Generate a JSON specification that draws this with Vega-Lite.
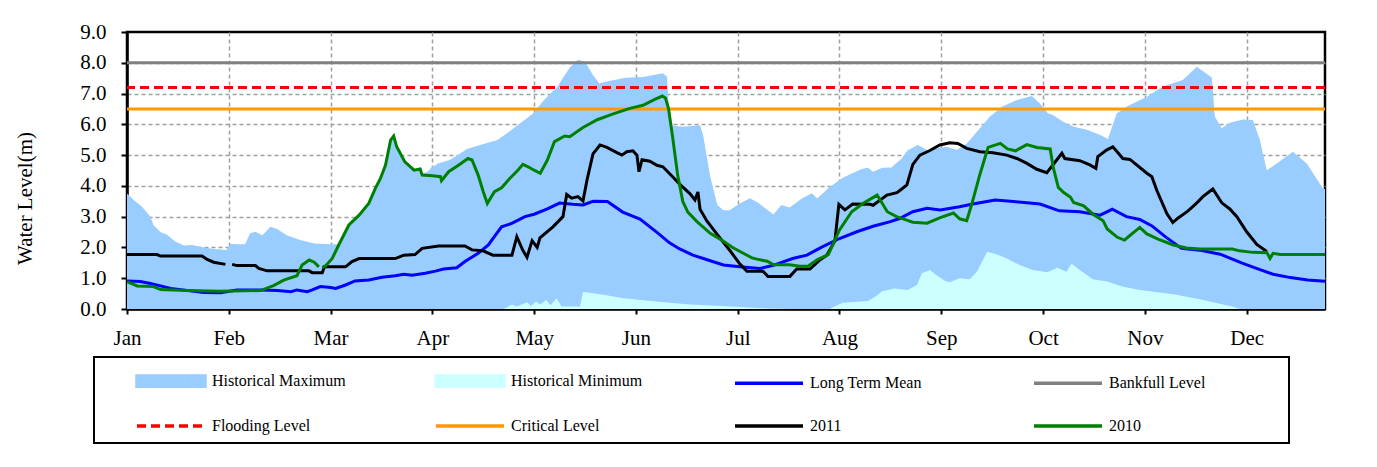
{
  "$schema": "https://vega.github.io/schema/vega-lite/v6.json",
  "width": 1198,
  "height": 277,
  "autosize": {"type": "none"},
  "padding": {"left": 127, "top": 32, "right": 52, "bottom": 158},
  "background": "white",
  "config": {
    "font": "Liberation Serif",
    "view": {"stroke": "black", "strokeWidth": 2.5},
    "axis": {
      "domainColor": "black", "domainWidth": 2.5,
      "tickColor": "black", "tickWidth": 2,
      "labelColor": "black", "labelFont": "Liberation Serif", "labelFontSize": 21,
      "titleColor": "black", "titleFont": "Liberation Serif", "titleFontSize": 21, "titleFontWeight": "normal",
      "gridColor": "#A0A0A0", "gridDash": [4, 3], "gridWidth": 1.5,
      "labelOverlap": false, "labelFlush": false
    }
  },
  "datasets": {
    "histmax": [
      {"s":"Historical Maximum","m":0,"v":3.75},{"s":"Historical Maximum","m":0.066,"v":3.54},{"s":"Historical Maximum","m":0.148,"v":3.32},{"s":"Historical Maximum","m":0.23,"v":3.0},{"s":"Historical Maximum","m":0.26,"v":2.73},{"s":"Historical Maximum","m":0.33,"v":2.49},{"s":"Historical Maximum","m":0.39,"v":2.42},{"s":"Historical Maximum","m":0.475,"v":2.19},{"s":"Historical Maximum","m":0.557,"v":2.06},{"s":"Historical Maximum","m":0.64,"v":2.08},{"s":"Historical Maximum","m":0.72,"v":2.02},{"s":"Historical Maximum","m":0.85,"v":1.95},{"s":"Historical Maximum","m":0.977,"v":1.92},{"s":"Historical Maximum","m":1.016,"v":2.11},{"s":"Historical Maximum","m":1.1,"v":2.1},{"s":"Historical Maximum","m":1.16,"v":2.1},{"s":"Historical Maximum","m":1.21,"v":2.46},{"s":"Historical Maximum","m":1.26,"v":2.51},{"s":"Historical Maximum","m":1.33,"v":2.4},{"s":"Historical Maximum","m":1.41,"v":2.67},{"s":"Historical Maximum","m":1.475,"v":2.6},{"s":"Historical Maximum","m":1.57,"v":2.4},{"s":"Historical Maximum","m":1.7,"v":2.24},{"s":"Historical Maximum","m":1.84,"v":2.13},{"s":"Historical Maximum","m":2.0,"v":2.1},{"s":"Historical Maximum","m":2.08,"v":2.1},{"s":"Historical Maximum","m":2.18,"v":2.73},{"s":"Historical Maximum","m":2.28,"v":3.05},{"s":"Historical Maximum","m":2.375,"v":3.43},{"s":"Historical Maximum","m":2.44,"v":3.92},{"s":"Historical Maximum","m":2.49,"v":4.24},{"s":"Historical Maximum","m":2.54,"v":4.68},{"s":"Historical Maximum","m":2.59,"v":5.49},{"s":"Historical Maximum","m":2.62,"v":5.62},{"s":"Historical Maximum","m":2.65,"v":5.27},{"s":"Historical Maximum","m":2.73,"v":4.78},{"s":"Historical Maximum","m":2.82,"v":4.51},{"s":"Historical Maximum","m":2.88,"v":4.55},{"s":"Historical Maximum","m":2.9,"v":4.4},{"s":"Historical Maximum","m":2.95,"v":4.45},{"s":"Historical Maximum","m":2.99,"v":4.6},{"s":"Historical Maximum","m":3.055,"v":4.73},{"s":"Historical Maximum","m":3.17,"v":4.84},{"s":"Historical Maximum","m":3.25,"v":5.0},{"s":"Historical Maximum","m":3.34,"v":5.2},{"s":"Historical Maximum","m":3.52,"v":5.38},{"s":"Historical Maximum","m":3.64,"v":5.49},{"s":"Historical Maximum","m":3.73,"v":5.7},{"s":"Historical Maximum","m":3.86,"v":6.03},{"s":"Historical Maximum","m":3.99,"v":6.35},{"s":"Historical Maximum","m":4.086,"v":6.75},{"s":"Historical Maximum","m":4.16,"v":7.0},{"s":"Historical Maximum","m":4.224,"v":7.2},{"s":"Historical Maximum","m":4.28,"v":7.49},{"s":"Historical Maximum","m":4.35,"v":7.85},{"s":"Historical Maximum","m":4.43,"v":8.1},{"s":"Historical Maximum","m":4.5,"v":8.03},{"s":"Historical Maximum","m":4.578,"v":7.6},{"s":"Historical Maximum","m":4.64,"v":7.33},{"s":"Historical Maximum","m":4.7,"v":7.38},{"s":"Historical Maximum","m":4.9,"v":7.51},{"s":"Historical Maximum","m":5.07,"v":7.54},{"s":"Historical Maximum","m":5.265,"v":7.66},{"s":"Historical Maximum","m":5.305,"v":7.55},{"s":"Historical Maximum","m":5.334,"v":5.97},{"s":"Historical Maximum","m":5.46,"v":5.92},{"s":"Historical Maximum","m":5.63,"v":5.97},{"s":"Historical Maximum","m":5.66,"v":5.65},{"s":"Historical Maximum","m":5.73,"v":4.3},{"s":"Historical Maximum","m":5.8,"v":3.38},{"s":"Historical Maximum","m":5.86,"v":3.21},{"s":"Historical Maximum","m":5.92,"v":3.21},{"s":"Historical Maximum","m":6.02,"v":3.43},{"s":"Historical Maximum","m":6.12,"v":3.6},{"s":"Historical Maximum","m":6.2,"v":3.45},{"s":"Historical Maximum","m":6.35,"v":3.07},{"s":"Historical Maximum","m":6.43,"v":3.38},{"s":"Historical Maximum","m":6.51,"v":3.3},{"s":"Historical Maximum","m":6.63,"v":3.59},{"s":"Historical Maximum","m":6.73,"v":3.76},{"s":"Historical Maximum","m":6.78,"v":3.59},{"s":"Historical Maximum","m":6.89,"v":3.92},{"s":"Historical Maximum","m":7.02,"v":4.24},{"s":"Historical Maximum","m":7.12,"v":4.4},{"s":"Historical Maximum","m":7.22,"v":4.55},{"s":"Historical Maximum","m":7.28,"v":4.59},{"s":"Historical Maximum","m":7.33,"v":4.46},{"s":"Historical Maximum","m":7.42,"v":4.59},{"s":"Historical Maximum","m":7.51,"v":4.6},{"s":"Historical Maximum","m":7.61,"v":4.89},{"s":"Historical Maximum","m":7.67,"v":5.16},{"s":"Historical Maximum","m":7.77,"v":5.33},{"s":"Historical Maximum","m":7.86,"v":5.17},{"s":"Historical Maximum","m":7.96,"v":5.22},{"s":"Historical Maximum","m":8.055,"v":5.27},{"s":"Historical Maximum","m":8.153,"v":5.17},{"s":"Historical Maximum","m":8.251,"v":5.38},{"s":"Historical Maximum","m":8.35,"v":5.76},{"s":"Historical Maximum","m":8.477,"v":6.25},{"s":"Historical Maximum","m":8.605,"v":6.59},{"s":"Historical Maximum","m":8.743,"v":6.79},{"s":"Historical Maximum","m":8.89,"v":6.92},{"s":"Historical Maximum","m":8.969,"v":6.68},{"s":"Historical Maximum","m":9.047,"v":6.36},{"s":"Historical Maximum","m":9.096,"v":6.3},{"s":"Historical Maximum","m":9.194,"v":6.09},{"s":"Historical Maximum","m":9.293,"v":5.93},{"s":"Historical Maximum","m":9.43,"v":5.82},{"s":"Historical Maximum","m":9.558,"v":5.66},{"s":"Historical Maximum","m":9.637,"v":5.52},{"s":"Historical Maximum","m":9.725,"v":6.36},{"s":"Historical Maximum","m":9.823,"v":6.58},{"s":"Historical Maximum","m":10.02,"v":6.9},{"s":"Historical Maximum","m":10.177,"v":7.23},{"s":"Historical Maximum","m":10.373,"v":7.44},{"s":"Historical Maximum","m":10.511,"v":7.87},{"s":"Historical Maximum","m":10.658,"v":7.52},{"s":"Historical Maximum","m":10.688,"v":6.25},{"s":"Historical Maximum","m":10.756,"v":5.87},{"s":"Historical Maximum","m":10.835,"v":6.05},{"s":"Historical Maximum","m":10.963,"v":6.16},{"s":"Historical Maximum","m":11.061,"v":6.14},{"s":"Historical Maximum","m":11.13,"v":5.49},{"s":"Historical Maximum","m":11.198,"v":4.51},{"s":"Historical Maximum","m":11.297,"v":4.73},{"s":"Historical Maximum","m":11.454,"v":5.11},{"s":"Historical Maximum","m":11.591,"v":4.73},{"s":"Historical Maximum","m":11.748,"v":3.92},{"s":"Historical Maximum","m":11.77,"v":3.9}
    ],
    "histmin": [
      {"s":"Historical Minimum","m":0,"v":0},{"s":"Historical Minimum","m":3.7,"v":0},{"s":"Historical Minimum","m":3.73,"v":0.05},{"s":"Historical Minimum","m":3.78,"v":0.15},{"s":"Historical Minimum","m":3.83,"v":0.08},{"s":"Historical Minimum","m":3.86,"v":0.12},{"s":"Historical Minimum","m":3.93,"v":0.22},{"s":"Historical Minimum","m":3.97,"v":0.1},{"s":"Historical Minimum","m":4.02,"v":0.24},{"s":"Historical Minimum","m":4.06,"v":0.15},{"s":"Historical Minimum","m":4.12,"v":0.29},{"s":"Historical Minimum","m":4.16,"v":0.12},{"s":"Historical Minimum","m":4.22,"v":0.35},{"s":"Historical Minimum","m":4.27,"v":0.08},{"s":"Historical Minimum","m":4.45,"v":0.08},{"s":"Historical Minimum","m":4.48,"v":0.56},{"s":"Historical Minimum","m":4.65,"v":0.48},{"s":"Historical Minimum","m":4.88,"v":0.35},{"s":"Historical Minimum","m":5.2,"v":0.24},{"s":"Historical Minimum","m":5.53,"v":0.15},{"s":"Historical Minimum","m":5.85,"v":0.1},{"s":"Historical Minimum","m":6.2,"v":0.03},{"s":"Historical Minimum","m":6.5,"v":0},{"s":"Historical Minimum","m":6.9,"v":0},{"s":"Historical Minimum","m":7.03,"v":0.2},{"s":"Historical Minimum","m":7.28,"v":0.26},{"s":"Historical Minimum","m":7.35,"v":0.4},{"s":"Historical Minimum","m":7.42,"v":0.58},{"s":"Historical Minimum","m":7.54,"v":0.67},{"s":"Historical Minimum","m":7.67,"v":0.62},{"s":"Historical Minimum","m":7.76,"v":0.78},{"s":"Historical Minimum","m":7.81,"v":1.16},{"s":"Historical Minimum","m":7.89,"v":1.27},{"s":"Historical Minimum","m":7.94,"v":1.13},{"s":"Historical Minimum","m":8.04,"v":0.91},{"s":"Historical Minimum","m":8.08,"v":0.87},{"s":"Historical Minimum","m":8.18,"v":1.0},{"s":"Historical Minimum","m":8.28,"v":0.97},{"s":"Historical Minimum","m":8.35,"v":1.21},{"s":"Historical Minimum","m":8.45,"v":1.86},{"s":"Historical Minimum","m":8.55,"v":1.77},{"s":"Historical Minimum","m":8.64,"v":1.65},{"s":"Historical Minimum","m":8.77,"v":1.43},{"s":"Historical Minimum","m":8.9,"v":1.27},{"s":"Historical Minimum","m":9.04,"v":1.19},{"s":"Historical Minimum","m":9.14,"v":1.34},{"s":"Historical Minimum","m":9.23,"v":1.21},{"s":"Historical Minimum","m":9.28,"v":1.48},{"s":"Historical Minimum","m":9.36,"v":1.27},{"s":"Historical Minimum","m":9.49,"v":0.97},{"s":"Historical Minimum","m":9.63,"v":0.89},{"s":"Historical Minimum","m":9.78,"v":0.73},{"s":"Historical Minimum","m":9.95,"v":0.62},{"s":"Historical Minimum","m":10.28,"v":0.48},{"s":"Historical Minimum","m":10.54,"v":0.32},{"s":"Historical Minimum","m":10.86,"v":0.08},{"s":"Historical Minimum","m":10.93,"v":0},{"s":"Historical Minimum","m":11.77,"v":0}
    ],
    "mean": [
      {"s":"Long Term Mean","m":0,"v":0.91},{"s":"Long Term Mean","m":0.13,"v":0.89},{"s":"Long Term Mean","m":0.23,"v":0.83},{"s":"Long Term Mean","m":0.43,"v":0.67},{"s":"Long Term Mean","m":0.75,"v":0.54},{"s":"Long Term Mean","m":0.92,"v":0.53},{"s":"Long Term Mean","m":1.08,"v":0.62},{"s":"Long Term Mean","m":1.31,"v":0.62},{"s":"Long Term Mean","m":1.48,"v":0.6},{"s":"Long Term Mean","m":1.61,"v":0.56},{"s":"Long Term Mean","m":1.67,"v":0.62},{"s":"Long Term Mean","m":1.77,"v":0.56},{"s":"Long Term Mean","m":1.82,"v":0.62},{"s":"Long Term Mean","m":1.9,"v":0.73},{"s":"Long Term Mean","m":2.0,"v":0.7},{"s":"Long Term Mean","m":2.05,"v":0.67},{"s":"Long Term Mean","m":2.147,"v":0.78},{"s":"Long Term Mean","m":2.24,"v":0.91},{"s":"Long Term Mean","m":2.375,"v":0.94},{"s":"Long Term Mean","m":2.506,"v":1.03},{"s":"Long Term Mean","m":2.636,"v":1.08},{"s":"Long Term Mean","m":2.72,"v":1.13},{"s":"Long Term Mean","m":2.8,"v":1.1},{"s":"Long Term Mean","m":2.93,"v":1.16},{"s":"Long Term Mean","m":3.03,"v":1.23},{"s":"Long Term Mean","m":3.11,"v":1.3},{"s":"Long Term Mean","m":3.24,"v":1.34},{"s":"Long Term Mean","m":3.32,"v":1.54},{"s":"Long Term Mean","m":3.45,"v":1.81},{"s":"Long Term Mean","m":3.55,"v":2.08},{"s":"Long Term Mean","m":3.62,"v":2.4},{"s":"Long Term Mean","m":3.68,"v":2.67},{"s":"Long Term Mean","m":3.78,"v":2.78},{"s":"Long Term Mean","m":3.91,"v":3.0},{"s":"Long Term Mean","m":4.0,"v":3.08},{"s":"Long Term Mean","m":4.13,"v":3.25},{"s":"Long Term Mean","m":4.25,"v":3.44},{"s":"Long Term Mean","m":4.38,"v":3.4},{"s":"Long Term Mean","m":4.48,"v":3.38},{"s":"Long Term Mean","m":4.58,"v":3.5},{"s":"Long Term Mean","m":4.72,"v":3.49},{"s":"Long Term Mean","m":4.87,"v":3.15},{"s":"Long Term Mean","m":5.04,"v":2.92},{"s":"Long Term Mean","m":5.21,"v":2.48},{"s":"Long Term Mean","m":5.33,"v":2.15},{"s":"Long Term Mean","m":5.43,"v":1.95},{"s":"Long Term Mean","m":5.56,"v":1.75},{"s":"Long Term Mean","m":5.7,"v":1.6},{"s":"Long Term Mean","m":5.86,"v":1.43},{"s":"Long Term Mean","m":6.02,"v":1.37},{"s":"Long Term Mean","m":6.22,"v":1.32},{"s":"Long Term Mean","m":6.35,"v":1.42},{"s":"Long Term Mean","m":6.54,"v":1.64},{"s":"Long Term Mean","m":6.68,"v":1.75},{"s":"Long Term Mean","m":6.83,"v":2.02},{"s":"Long Term Mean","m":7.0,"v":2.29},{"s":"Long Term Mean","m":7.17,"v":2.51},{"s":"Long Term Mean","m":7.33,"v":2.69},{"s":"Long Term Mean","m":7.5,"v":2.84},{"s":"Long Term Mean","m":7.59,"v":2.94},{"s":"Long Term Mean","m":7.72,"v":3.16},{"s":"Long Term Mean","m":7.86,"v":3.27},{"s":"Long Term Mean","m":7.99,"v":3.22},{"s":"Long Term Mean","m":8.18,"v":3.32},{"s":"Long Term Mean","m":8.31,"v":3.41},{"s":"Long Term Mean","m":8.53,"v":3.54},{"s":"Long Term Mean","m":8.71,"v":3.49},{"s":"Long Term Mean","m":8.97,"v":3.41},{"s":"Long Term Mean","m":9.16,"v":3.19},{"s":"Long Term Mean","m":9.36,"v":3.16},{"s":"Long Term Mean","m":9.56,"v":3.05},{"s":"Long Term Mean","m":9.68,"v":3.24},{"s":"Long Term Mean","m":9.82,"v":3.0},{"s":"Long Term Mean","m":9.95,"v":2.91},{"s":"Long Term Mean","m":10.07,"v":2.7},{"s":"Long Term Mean","m":10.2,"v":2.35},{"s":"Long Term Mean","m":10.36,"v":1.97},{"s":"Long Term Mean","m":10.56,"v":1.9},{"s":"Long Term Mean","m":10.74,"v":1.78},{"s":"Long Term Mean","m":10.95,"v":1.5},{"s":"Long Term Mean","m":11.09,"v":1.33},{"s":"Long Term Mean","m":11.26,"v":1.13},{"s":"Long Term Mean","m":11.43,"v":1.02},{"s":"Long Term Mean","m":11.6,"v":0.94},{"s":"Long Term Mean","m":11.77,"v":0.9}
    ],
    "y2011": [
      {"s":"2011","m":0,"v":1.77},{"s":"2011","m":0.295,"v":1.77},{"s":"2011","m":0.328,"v":1.72},{"s":"2011","m":0.738,"v":1.72},{"s":"2011","m":0.787,"v":1.61},{"s":"2011","m":0.852,"v":1.52},{"s":"2011","m":0.967,"v":1.45},{"s":"2011","m":1.0,"v":null},{"s":"2011","m":1.033,"v":1.45},{"s":"2011","m":1.082,"v":1.41},{"s":"2011","m":1.262,"v":1.41},{"s":"2011","m":1.295,"v":1.32},{"s":"2011","m":1.377,"v":1.24},{"s":"2011","m":1.787,"v":1.24},{"s":"2011","m":1.82,"v":1.18},{"s":"2011","m":1.918,"v":1.18},{"s":"2011","m":1.94,"v":1.37},{"s":"2011","m":2.147,"v":1.37},{"s":"2011","m":2.21,"v":1.54},{"s":"2011","m":2.28,"v":1.64},{"s":"2011","m":2.636,"v":1.64},{"s":"2011","m":2.72,"v":1.75},{"s":"2011","m":2.83,"v":1.77},{"s":"2011","m":2.9,"v":1.97},{"s":"2011","m":3.06,"v":2.05},{"s":"2011","m":3.32,"v":2.05},{"s":"2011","m":3.39,"v":1.92},{"s":"2011","m":3.497,"v":1.89},{"s":"2011","m":3.595,"v":1.75},{"s":"2011","m":3.782,"v":1.75},{"s":"2011","m":3.83,"v":2.35},{"s":"2011","m":3.89,"v":1.9},{"s":"2011","m":3.93,"v":1.68},{"s":"2011","m":3.98,"v":2.22},{"s":"2011","m":4.03,"v":2.0},{"s":"2011","m":4.057,"v":2.31},{"s":"2011","m":4.185,"v":2.67},{"s":"2011","m":4.283,"v":3.0},{"s":"2011","m":4.32,"v":3.72},{"s":"2011","m":4.37,"v":3.6},{"s":"2011","m":4.43,"v":3.65},{"s":"2011","m":4.48,"v":3.51},{"s":"2011","m":4.52,"v":4.2},{"s":"2011","m":4.578,"v":5.04},{"s":"2011","m":4.647,"v":5.33},{"s":"2011","m":4.715,"v":5.25},{"s":"2011","m":4.813,"v":5.08},{"s":"2011","m":4.862,"v":5.0},{"s":"2011","m":4.91,"v":5.11},{"s":"2011","m":4.97,"v":5.14},{"s":"2011","m":5.01,"v":5.0},{"s":"2011","m":5.03,"v":4.46},{"s":"2011","m":5.06,"v":4.85},{"s":"2011","m":5.137,"v":4.8},{"s":"2011","m":5.206,"v":4.67},{"s":"2011","m":5.265,"v":4.62},{"s":"2011","m":5.363,"v":4.29},{"s":"2011","m":5.432,"v":4.05},{"s":"2011","m":5.53,"v":3.75},{"s":"2011","m":5.58,"v":3.54},{"s":"2011","m":5.609,"v":3.8},{"s":"2011","m":5.63,"v":3.24},{"s":"2011","m":5.697,"v":2.86},{"s":"2011","m":5.796,"v":2.43},{"s":"2011","m":5.923,"v":1.9},{"s":"2011","m":6.022,"v":1.46},{"s":"2011","m":6.09,"v":1.23},{"s":"2011","m":6.248,"v":1.23},{"s":"2011","m":6.297,"v":1.06},{"s":"2011","m":6.513,"v":1.06},{"s":"2011","m":6.58,"v":1.3},{"s":"2011","m":6.71,"v":1.3},{"s":"2011","m":6.81,"v":1.6},{"s":"2011","m":6.876,"v":1.75},{"s":"2011","m":6.955,"v":2.22},{"s":"2011","m":6.994,"v":3.4},{"s":"2011","m":7.053,"v":3.22},{"s":"2011","m":7.13,"v":3.41},{"s":"2011","m":7.3,"v":3.4},{"s":"2011","m":7.33,"v":3.37},{"s":"2011","m":7.466,"v":3.7},{"s":"2011","m":7.564,"v":3.78},{"s":"2011","m":7.593,"v":3.85},{"s":"2011","m":7.662,"v":4.03},{"s":"2011","m":7.721,"v":4.7},{"s":"2011","m":7.79,"v":5.0},{"s":"2011","m":7.888,"v":5.15},{"s":"2011","m":7.986,"v":5.33},{"s":"2011","m":8.084,"v":5.4},{"s":"2011","m":8.163,"v":5.38},{"s":"2011","m":8.25,"v":5.22},{"s":"2011","m":8.38,"v":5.11},{"s":"2011","m":8.507,"v":5.08},{"s":"2011","m":8.644,"v":5.0},{"s":"2011","m":8.743,"v":4.89},{"s":"2011","m":8.841,"v":4.73},{"s":"2011","m":8.939,"v":4.54},{"s":"2011","m":9.037,"v":4.43},{"s":"2011","m":9.096,"v":4.68},{"s":"2011","m":9.185,"v":5.06},{"s":"2011","m":9.214,"v":4.89},{"s":"2011","m":9.361,"v":4.82},{"s":"2011","m":9.46,"v":4.68},{"s":"2011","m":9.519,"v":4.57},{"s":"2011","m":9.538,"v":4.95},{"s":"2011","m":9.627,"v":5.17},{"s":"2011","m":9.686,"v":5.27},{"s":"2011","m":9.784,"v":4.89},{"s":"2011","m":9.853,"v":4.86},{"s":"2011","m":10.02,"v":4.41},{"s":"2011","m":10.069,"v":4.3},{"s":"2011","m":10.118,"v":3.85},{"s":"2011","m":10.216,"v":3.1},{"s":"2011","m":10.275,"v":2.81},{"s":"2011","m":10.324,"v":2.95},{"s":"2011","m":10.422,"v":3.18},{"s":"2011","m":10.511,"v":3.45},{"s":"2011","m":10.57,"v":3.65},{"s":"2011","m":10.668,"v":3.9},{"s":"2011","m":10.756,"v":3.45},{"s":"2011","m":10.835,"v":3.25},{"s":"2011","m":10.904,"v":3.0},{"s":"2011","m":11.002,"v":2.5},{"s":"2011","m":11.1,"v":2.1},{"s":"2011","m":11.198,"v":1.87}
    ],
    "y2010": [
      {"s":"2010","m":0,"v":0.89},{"s":"2010","m":0.1,"v":0.75},{"s":"2010","m":0.26,"v":0.73},{"s":"2010","m":0.33,"v":0.63},{"s":"2010","m":0.59,"v":0.6},{"s":"2010","m":0.92,"v":0.58},{"s":"2010","m":1.31,"v":0.6},{"s":"2010","m":1.44,"v":0.76},{"s":"2010","m":1.54,"v":0.94},{"s":"2010","m":1.67,"v":1.08},{"s":"2010","m":1.72,"v":1.43},{"s":"2010","m":1.79,"v":1.59},{"s":"2010","m":1.84,"v":1.52},{"s":"2010","m":1.885,"v":1.37},{"s":"2010","m":1.9,"v":null},{"s":"2010","m":1.92,"v":1.35},{"s":"2010","m":1.95,"v":1.4},{"s":"2010","m":2.016,"v":1.64},{"s":"2010","m":2.08,"v":2.08},{"s":"2010","m":2.18,"v":2.73},{"s":"2010","m":2.28,"v":3.05},{"s":"2010","m":2.375,"v":3.43},{"s":"2010","m":2.44,"v":3.92},{"s":"2010","m":2.49,"v":4.24},{"s":"2010","m":2.54,"v":4.68},{"s":"2010","m":2.59,"v":5.49},{"s":"2010","m":2.62,"v":5.62},{"s":"2010","m":2.65,"v":5.27},{"s":"2010","m":2.73,"v":4.78},{"s":"2010","m":2.82,"v":4.51},{"s":"2010","m":2.88,"v":4.55},{"s":"2010","m":2.9,"v":4.35},{"s":"2010","m":3.0,"v":4.33},{"s":"2010","m":3.08,"v":4.3},{"s":"2010","m":3.09,"v":4.17},{"s":"2010","m":3.16,"v":4.46},{"s":"2010","m":3.26,"v":4.68},{"s":"2010","m":3.35,"v":4.89},{"s":"2010","m":3.39,"v":4.84},{"s":"2010","m":3.45,"v":4.35},{"s":"2010","m":3.5,"v":3.81},{"s":"2010","m":3.54,"v":3.43},{"s":"2010","m":3.61,"v":3.81},{"s":"2010","m":3.68,"v":3.94},{"s":"2010","m":3.76,"v":4.24},{"s":"2010","m":3.84,"v":4.51},{"s":"2010","m":3.89,"v":4.7},{"s":"2010","m":3.94,"v":4.62},{"s":"2010","m":4.0,"v":4.51},{"s":"2010","m":4.06,"v":4.41},{"s":"2010","m":4.13,"v":4.84},{"s":"2010","m":4.2,"v":5.44},{"s":"2010","m":4.3,"v":5.62},{"s":"2010","m":4.35,"v":5.6},{"s":"2010","m":4.48,"v":5.9},{"s":"2010","m":4.62,"v":6.15},{"s":"2010","m":4.77,"v":6.33},{"s":"2010","m":4.94,"v":6.52},{"s":"2010","m":5.07,"v":6.62},{"s":"2010","m":5.19,"v":6.82},{"s":"2010","m":5.26,"v":6.92},{"s":"2010","m":5.29,"v":6.86},{"s":"2010","m":5.32,"v":6.52},{"s":"2010","m":5.36,"v":5.6},{"s":"2010","m":5.41,"v":4.35},{"s":"2010","m":5.46,"v":3.5},{"s":"2010","m":5.51,"v":3.15},{"s":"2010","m":5.6,"v":2.84},{"s":"2010","m":5.73,"v":2.46},{"s":"2010","m":5.86,"v":2.2},{"s":"2010","m":5.95,"v":2.0},{"s":"2010","m":6.05,"v":1.82},{"s":"2010","m":6.14,"v":1.66},{"s":"2010","m":6.19,"v":1.62},{"s":"2010","m":6.29,"v":1.55},{"s":"2010","m":6.35,"v":1.44},{"s":"2010","m":6.51,"v":1.44},{"s":"2010","m":6.61,"v":1.39},{"s":"2010","m":6.69,"v":1.39},{"s":"2010","m":6.78,"v":1.6},{"s":"2010","m":6.89,"v":1.77},{"s":"2010","m":7.0,"v":2.57},{"s":"2010","m":7.12,"v":3.16},{"s":"2010","m":7.23,"v":3.43},{"s":"2010","m":7.37,"v":3.7},{"s":"2010","m":7.4,"v":3.54},{"s":"2010","m":7.47,"v":3.16},{"s":"2010","m":7.56,"v":3.0},{"s":"2010","m":7.59,"v":2.97},{"s":"2010","m":7.72,"v":2.82},{"s":"2010","m":7.86,"v":2.79},{"s":"2010","m":7.99,"v":2.97},{"s":"2010","m":8.12,"v":3.12},{"s":"2010","m":8.18,"v":2.93},{"s":"2010","m":8.25,"v":2.87},{"s":"2010","m":8.3,"v":3.41},{"s":"2010","m":8.38,"v":4.38},{"s":"2010","m":8.46,"v":5.25},{"s":"2010","m":8.58,"v":5.38},{"s":"2010","m":8.65,"v":5.2},{"s":"2010","m":8.73,"v":5.14},{"s":"2010","m":8.84,"v":5.34},{"s":"2010","m":8.94,"v":5.25},{"s":"2010","m":9.07,"v":5.2},{"s":"2010","m":9.1,"v":4.6},{"s":"2010","m":9.15,"v":3.95},{"s":"2010","m":9.2,"v":3.79},{"s":"2010","m":9.27,"v":3.63},{"s":"2010","m":9.3,"v":3.46},{"s":"2010","m":9.4,"v":3.35},{"s":"2010","m":9.49,"v":3.08},{"s":"2010","m":9.59,"v":2.87},{"s":"2010","m":9.63,"v":2.6},{"s":"2010","m":9.73,"v":2.33},{"s":"2010","m":9.8,"v":2.24},{"s":"2010","m":9.85,"v":2.38},{"s":"2010","m":9.95,"v":2.65},{"s":"2010","m":10.02,"v":2.44},{"s":"2010","m":10.13,"v":2.27},{"s":"2010","m":10.28,"v":2.08},{"s":"2010","m":10.41,"v":1.98},{"s":"2010","m":10.54,"v":1.95},{"s":"2010","m":10.86,"v":1.95},{"s":"2010","m":10.93,"v":1.89},{"s":"2010","m":11.06,"v":1.84},{"s":"2010","m":11.2,"v":1.83},{"s":"2010","m":11.23,"v":1.64},{"s":"2010","m":11.26,"v":1.81},{"s":"2010","m":11.33,"v":1.77},{"s":"2010","m":11.77,"v":1.77}
    ],
    "levels": [
      {"s":"Bankfull Level","v":8.0},
      {"s":"Flooding Level","v":7.2},
      {"s":"Critical Level","v":6.5}
    ]
  },
  "encoding": {
    "y": {"field": "v", "type": "quantitative",
          "scale": {"domain": [0, 9], "nice": false},
          "axis": {"values": [0,1,2,3,4,5,6,7,8,9], "format": ".1f",
                   "title": "Water Level(m)", "grid": true, "tickSize": 6,
                   "gridOpacity": {"condition": {"test": "datum.value === 0 || datum.value === 9", "value": 0}, "value": 1},
                   "labelPadding": 15, "titlePadding": 44, "titleY": 166}},
    "color": {
      "field": "s", "type": "nominal",
      "scale": {"domain": ["Historical Maximum","Historical Minimum","Long Term Mean","Bankfull Level","Flooding Level","Critical Level","2011","2010"],
                "range": ["#99CCFF","#CCFFFF","#0000FF","#808080","#FF0000","#FF9900","#000000","#008000"]},
      "legend": {
        "orient": "none", "legendX": -33, "legendY": 325,
        "direction": "horizontal", "columns": 4, "gridAlign": "each",
        "columnPadding": 46, "rowPadding": 17, "padding": 8.5,
        "strokeColor": "black", "title": null,
        "labelFont": "Liberation Serif", "labelFontSize": 16, "labelColor": "black",
        "labelLimit": 400, "labelOffset": 25.5, "symbolOffset": 53,
        "symbolSize": 756, "symbolStrokeWidth": 3.5,
        "encode": {
          "legend": {"update": {"strokeWidth": {"value": 2}}},
          "symbols": {"update": {
            "shape": {"signal": "(indexof(['Bankfull Level','2010'], datum.value) >= 0 ? 'M14.94,0' : 'M12.84,0') + (indexof(['Historical Maximum','Historical Minimum'], datum.value) >= 0 ? 'M-2.473,-0.378H2.473V0.378H-2.473Z' : 'M-2.473,0H2.473')"},
            "fill": {"signal": "indexof(['Historical Maximum','Historical Minimum'], datum.value) >= 0 ? scale('color', datum.value) : 'transparent'"},
            "stroke": {"signal": "indexof(['Historical Maximum','Historical Minimum'], datum.value) >= 0 ? 'transparent' : scale('color', datum.value)"},
            "strokeDash": {"signal": "datum.value === 'Flooding Level' ? [9,5] : [1,0]"},
            "strokeWidth": {"value": 3.5},
            "opacity": {"value": 1}
          }}
        }
      }
    }
  },
  "layer": [
    {
      "data": {"name": "histmax"},
      "mark": {"type": "area", "opacity": 1},
      "encoding": {
        "x": {"field": "m", "type": "quantitative",
              "scale": {"domain": [0, 11.77], "nice": false, "zero": false},
              "axis": {"values": [0,1,2,3,4,5,6,7,8,9,10,11],
                       "labelExpr": "['Jan','Feb','Mar','Apr','May','Jun','Jul','Aug','Sep','Oct','Nov','Dec'][datum.value]",
                       "gridOpacity": {"condition": {"test": "datum.value === 0", "value": 0}, "value": 1},
                       "title": null, "grid": true, "tickSize": 5, "labelPadding": 13}}
      }
    },
    {
      "data": {"name": "histmin"},
      "mark": {"type": "area", "opacity": 1},
      "encoding": {
        "x": {"field": "m", "type": "quantitative"}
      }
    },
    {
      "data": {"name": "levels"},
      "mark": {"type": "rule", "strokeWidth": 3},
      "encoding": {
        "strokeDash": {"field": "s", "type": "nominal",
          "scale": {"domain": ["Bankfull Level","Flooding Level","Critical Level"], "range": [[1,0],[9,5],[1,0]]},
          "legend": null}
      }
    },
    {
      "data": {"name": "mean"},
      "mark": {"type": "line", "strokeWidth": 3},
      "encoding": {
        "x": {"field": "m", "type": "quantitative"}
      }
    },
    {
      "data": {"name": "y2011"},
      "mark": {"type": "line", "strokeWidth": 3},
      "encoding": {
        "x": {"field": "m", "type": "quantitative"}
      }
    },
    {
      "data": {"name": "y2010"},
      "mark": {"type": "line", "strokeWidth": 3},
      "encoding": {
        "x": {"field": "m", "type": "quantitative"}
      }
    }
  ]
}
